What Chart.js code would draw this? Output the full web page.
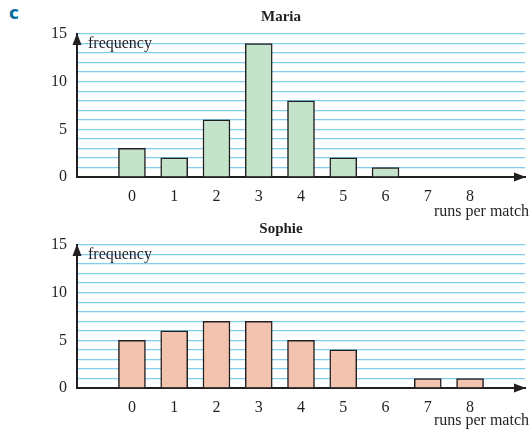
<!DOCTYPE html>
<html>
<head>
<meta charset="utf-8">
<script src="https://cdn.jsdelivr.net/npm/chart.js@4"></script>
<style>
  body { margin: 0; background: #fff; width: 529px; height: 429px; position: relative; overflow: hidden; }
  .box { position: absolute; left: 0; width: 529px; }
  #top { top: 0; height: 224px; }
  #bottom { top: 215px; height: 214px; }
  #letter { position: absolute; left: 9px; top: 3px; font: bold 17px "DejaVu Sans", sans-serif; color: #0b6f9e; }
</style>
</head>
<body>
<div id="letter">c</div>
<div class="box" id="top"><canvas id="mariaChart"></canvas></div>
<div class="box" id="bottom"><canvas id="sophieChart"></canvas></div>
<script>
    // ================= DATA =================
    const runs = [0, 1, 2, 3, 4, 5, 6, 7, 8];
    const mariaFreq = [3, 2, 6, 14, 8, 2, 1, 0, 0];
    const sophieFreq = [5, 6, 7, 7, 5, 4, 0, 1, 1];
    const yTickLabels = [0, 5, 10, 15];

    const serif = "'Liberation Serif', 'DejaVu Serif', serif";
    const ink = "#231f20";
    const gridBlue = "#80cff0";

    // ================= ARROWS + LABELS =================
    const decorations = {
        id: "decorations",
        afterDraw(chart, args, opts) {
            const ctx = chart.ctx;
            const a = chart.chartArea;
            ctx.save();
            ctx.fillStyle = ink;

            // y axis arrow head
            ctx.beginPath();
            ctx.moveTo(a.left, a.top - 1);
            ctx.lineTo(a.left - 4.5, a.top + 11);
            ctx.lineTo(a.left + 4.5, a.top + 11);
            ctx.closePath();
            ctx.fill();

            // x axis arrow head
            ctx.beginPath();
            ctx.moveTo(a.right + 1, a.bottom);
            ctx.lineTo(a.right - 11, a.bottom - 4.5);
            ctx.lineTo(a.right - 11, a.bottom + 4.5);
            ctx.closePath();
            ctx.fill();

            ctx.font = "16px " + serif;
            ctx.textBaseline = "middle";
            ctx.textAlign = "left";
            ctx.fillText("frequency", a.left + 11, a.top + 10);
            ctx.textAlign = "right";
            ctx.fillText("runs per match", 529, a.bottom + opts.runsOffset);

            ctx.font = "bold 15px " + serif;
            ctx.textAlign = "center";
            ctx.fillText(opts.title, 281, opts.titleY);
            ctx.restore();
        }
    };

    function makeChart(canvasId, values, fill, title, titleY, padTop, xHeight, runsOffset) {
        return new Chart(document.getElementById(canvasId), {
            type: "bar",
            data: {
                datasets: [{
                    data: runs.map((r, i) => ({ x: r, y: values[i] })),
                    backgroundColor: fill,
                    borderColor: ink,
                    borderWidth: 1.5,
                    barThickness: 27
                }]
            },
            options: {
                responsive: true,
                maintainAspectRatio: false,
                animation: false,
                layout: { padding: { top: padTop, right: 4, left: 0, bottom: 0 } },
                plugins: {
                    legend: { display: false },
                    tooltip: { enabled: false },
                    decorations: { title: title, titleY: titleY, runsOffset: runsOffset }
                },
                scales: {
                    x: {
                        type: "linear",
                        offset: false,
                        min: -1.3,
                        max: 9.3,
                        afterFit: s => {
                            s.height = xHeight;
                            s.paddingLeft = 0;
                            s.paddingRight = 0;
                        },
                        grid: { display: false, drawTicks: false },
                        border: { display: true, color: ink, width: 2 },
                        ticks: {
                            stepSize: 1,
                            padding: 10,
                            color: ink,
                            font: { family: serif, size: 16 },
                            autoSkip: false,
                            maxRotation: 0,
                            callback: v => runs.includes(v) ? String(v) : ""
                        }
                    },
                    y: {
                        min: 0,
                        max: 15,
                        afterFit: s => {
                            s.width = 77;
                            s.paddingTop = 0;
                            s.paddingBottom = 0;
                        },
                        border: { display: true, color: ink, width: 2 },
                        grid: {
                            drawTicks: false,
                            color: c => c.tick.value === 0 ? "rgba(0,0,0,0)" : gridBlue,
                            lineWidth: 1.3
                        },
                        ticks: {
                            stepSize: 1,
                            padding: 10,
                            color: ink,
                            font: { family: serif, size: 16 },
                            autoSkip: false,
                            callback: v => yTickLabels.includes(v) ? String(v) : ""
                        }
                    }
                }
            },
            plugins: [decorations]
        });
    }

    makeChart("mariaChart", mariaFreq, "#c4e3cb", "Maria", 17, 34, 47, 35);
    makeChart("sophieChart", sophieFreq, "#f2c4af", "Sophie", 14, 30, 41, 33);
</script>
</body>
</html>
